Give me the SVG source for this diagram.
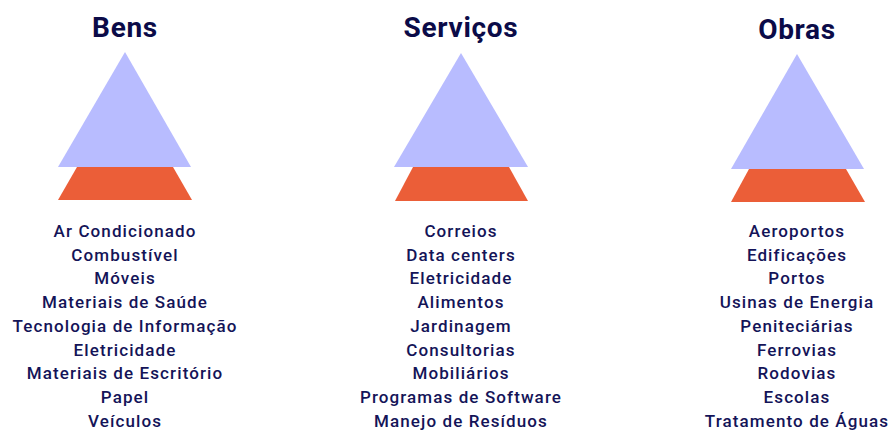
<svg xmlns="http://www.w3.org/2000/svg" width="895" height="430" viewBox="0 0 895 430">
<style>
.tri{fill:#b8bcff}
.trap{fill:#eb5e38}
.title{font-family:Roboto,"Liberation Sans",sans-serif;font-weight:bold;font-size:28px;letter-spacing:0.7px;fill:#0b0b48;text-anchor:middle}
.item{font-family:Roboto,"Liberation Sans",sans-serif;font-weight:500;font-size:17px;letter-spacing:1.1px;fill:#141458;text-anchor:middle}
</style>
<rect width="895" height="430" fill="#ffffff"/>
<g id="bens">
<text class="title" x="125" y="37">Bens</text>
<polygon class="trap" points="77,167 173,167 192,200 58,200"/>
<polygon class="tri" points="125,52 191,167 58,167"/>
<text class="item" x="125" y="237">Ar Condicionado</text>
<text class="item" x="125" y="260.7">Combustível</text>
<text class="item" x="125" y="284.4">Móveis</text>
<text class="item" x="125" y="308.1">Materiais de Saúde</text>
<text class="item" x="125" y="331.8">Tecnologia de Informação</text>
<text class="item" x="125" y="355.5">Eletricidade</text>
<text class="item" x="125" y="379.2">Materiais de Escritório</text>
<text class="item" x="125" y="402.9">Papel</text>
<text class="item" x="125" y="426.6">Veículos</text>
</g>
<g id="servicos">
<text class="title" x="461" y="37">Serviços</text>
<polygon class="trap" points="413,167 509,167 528,201 395,201"/>
<polygon class="tri" points="461,53 528,167 394,167"/>
<text class="item" x="461" y="237">Correios</text>
<text class="item" x="461" y="260.7">Data centers</text>
<text class="item" x="461" y="284.4">Eletricidade</text>
<text class="item" x="461" y="308.1">Alimentos</text>
<text class="item" x="461" y="331.8">Jardinagem</text>
<text class="item" x="461" y="355.5">Consultorias</text>
<text class="item" x="461" y="379.2">Mobiliários</text>
<text class="item" x="461" y="402.9">Programas de Software</text>
<text class="item" x="461" y="426.6">Manejo de Resíduos</text>
</g>
<g id="obras">
<text class="title" x="797" y="39">Obras</text>
<polygon class="trap" points="749,169 846,169 865,202 731,202"/>
<polygon class="tri" points="797,54 864,169 731,169"/>
<text class="item" x="797" y="237">Aeroportos</text>
<text class="item" x="797" y="260.7">Edificações</text>
<text class="item" x="797" y="284.4">Portos</text>
<text class="item" x="797" y="308.1">Usinas de Energia</text>
<text class="item" x="797" y="331.8">Peniteciárias</text>
<text class="item" x="797" y="355.5">Ferrovias</text>
<text class="item" x="797" y="379.2">Rodovias</text>
<text class="item" x="797" y="402.9">Escolas</text>
<text class="item" x="797" y="426.6">Tratamento de Águas</text>
</g>
<g id="connectors"/>
</svg>
